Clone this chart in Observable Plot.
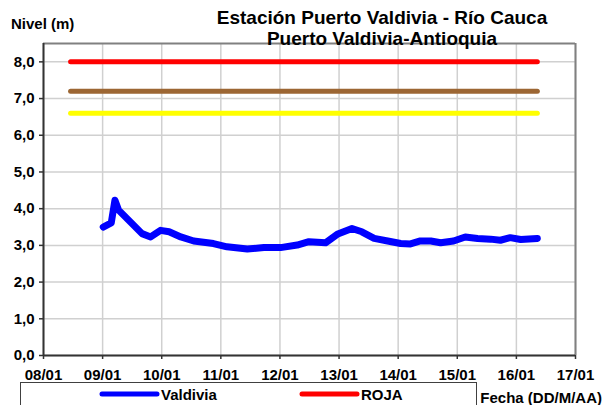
<!DOCTYPE html>
<html>
<head>
<meta charset="utf-8">
<script src="https://cdn.jsdelivr.net/npm/d3@7"></script>
<script src="https://cdn.jsdelivr.net/npm/@observablehq/plot@0.6"></script>
<style>
  html, body { margin: 0; padding: 0; background: #fff; }
  #chart { width: 603px; height: 405px; overflow: hidden; }
</style>
</head>
<body>
<div id="chart"></div>
<script>
// ---- data ----
const titleLine1 = "Estación Puerto Valdivia - Río Cauca";
const titleLine2 = "Puerto Valdivia-Antioquia";
const yAxisTitle = "Nivel (m)";
const xAxisTitle = "Fecha (DD/M/AA)";

const xStart = "2011-01-08 00:00";
const xEnd = "2011-01-17 00:00";
const yTicks = [0, 1, 2, 3, 4, 5, 6, 7, 8];

const seriesName = "Valdivia";
const levelTimes = [
  "2011-01-09 00:15", "2011-01-09 03:30", "2011-01-09 05:00", "2011-01-09 06:30",
  "2011-01-09 11:15", "2011-01-09 16:00", "2011-01-09 19:30", "2011-01-09 23:30",
  "2011-01-10 03:00", "2011-01-10 07:45", "2011-01-10 13:00", "2011-01-10 21:00",
  "2011-01-11 02:30", "2011-01-11 10:45", "2011-01-11 17:30", "2011-01-12 00:15",
  "2011-01-12 07:00", "2011-01-12 11:45", "2011-01-12 18:30", "2011-01-12 23:15",
  "2011-01-13 05:15", "2011-01-13 09:15", "2011-01-13 14:15", "2011-01-13 19:45",
  "2011-01-14 01:00", "2011-01-14 05:00", "2011-01-14 09:00", "2011-01-14 13:15",
  "2011-01-14 17:15", "2011-01-14 22:30", "2011-01-15 03:15", "2011-01-15 08:15",
  "2011-01-15 13:30", "2011-01-15 17:30", "2011-01-15 21:30", "2011-01-16 01:45",
  "2011-01-16 08:30"
];
const levelValues = [
  3.50, 3.61, 4.23, 3.96,
  3.64, 3.32, 3.23, 3.41,
  3.37, 3.23, 3.12, 3.05,
  2.96, 2.90, 2.94, 2.94,
  3.01, 3.10, 3.07, 3.30,
  3.46, 3.37, 3.19, 3.12,
  3.05, 3.04, 3.12, 3.12,
  3.07, 3.12, 3.23, 3.19,
  3.17, 3.14, 3.21, 3.16,
  3.19
];

const alertNames = ["ROJA", "NARANJA", "AMARILLA"];
const alertValues = [8.0, 7.2, 6.6];
const alertColors = ["#ff0000", "#9c6633", "#ffff00"];
const alertStart = "2011-01-08 11:00";
const alertEnd = "2011-01-16 08:30";

// ---- build ----
const parse = d3.utcParse("%Y-%m-%d %H:%M");
const x0 = parse(xStart), x1 = parse(xEnd);
const dayTicks = d3.utcDay.range(x0, d3.utcDay.offset(x1, 1));
const series = levelTimes.map((t, i) => ({date: parse(t), value: levelValues[i]}));
const alerts = [];
alertNames.forEach((n, i) => {
  alerts.push({name: n, date: parse(alertStart), value: alertValues[i]});
  alerts.push({name: n, date: parse(alertEnd), value: alertValues[i]});
});
const fmtY = d => d3.format(".1f")(d).replace(".", ",");
const fmtX = d3.utcFormat("%d/%m");
const FONT = "'Liberation Sans', Arial, sans-serif";

const W = 603, H = 405;
const chart = Plot.plot({
  width: W, height: H,
  marginLeft: 43, marginRight: 28, marginTop: 43, marginBottom: 50,
  style: {fontFamily: FONT, fontSize: "15px", fontWeight: "bold", color: "#000", background: "#fff", overflow: "visible"},
  x: {type: "utc", domain: [x0, x1]},
  y: {domain: [0, 8.5]},
  color: {domain: alertNames, range: alertColors},
  marks: [
    Plot.gridY(yTicks, {stroke: "#d0d0d0", strokeOpacity: 1, strokeWidth: 1.5}),
    Plot.gridX(dayTicks, {stroke: "#d0d0d0", strokeOpacity: 1, strokeWidth: 1.5}),
    Plot.ruleY([8.5], {stroke: "#808080", strokeWidth: 2}),
    Plot.ruleX([x1], {stroke: "#808080", strokeWidth: 2}),
    Plot.line(alerts, {x: "date", y: "value", z: "name", stroke: "name", strokeWidth: 5, strokeLinecap: "round"}),
    Plot.line(series, {x: "date", y: "value", stroke: "#0000ff", strokeWidth: 7, strokeLinecap: "round", strokeLinejoin: "round"}),
    Plot.ruleX([x0], {stroke: "#333", strokeWidth: 2}),
    Plot.ruleY([0], {stroke: "#333", strokeWidth: 2}),
    Plot.axisY(yTicks, {tickFormat: fmtY, tickSize: 4, tickPadding: 5, label: null, stroke: "#333", strokeWidth: 1.5, letterSpacing: "1px"}),
    Plot.axisX(dayTicks, {tickFormat: fmtX, tickSize: 4, tickPadding: 10, label: null, stroke: "#333", strokeWidth: 1.5})
  ]
});
document.getElementById("chart").appendChild(chart);

// ---- titles & legend ----
const svg = d3.select(chart);
const addText = (parent, txt, x, y, size, anchor) =>
  parent.append("text").attr("x", x).attr("y", y).attr("text-anchor", anchor)
    .attr("font-family", FONT).attr("font-weight", "bold").attr("font-size", size)
    .attr("fill", "#000").text(txt);

addText(svg, titleLine1, 382, 23.5, "19px", "middle");
addText(svg, titleLine2, 382, 45, "19px", "middle");
addText(svg, yAxisTitle, 11, 29, "15px", "start");
addText(svg, xAxisTitle, 602, 403, "15px", "end");

const lg = svg.append("g").attr("text-anchor", "start");
lg.append("rect").attr("x", 20.5).attr("y", 382.5).attr("width", 456).attr("height", 40)
  .attr("fill", "#fff").attr("stroke", "#404040").attr("stroke-width", 1);
const legendItems = [
  {name: seriesName, color: "#0000ff", x: 102},
  {name: alertNames[0], color: alertColors[0], x: 302}
];
legendItems.forEach(it => {
  lg.append("line").attr("x1", it.x).attr("x2", it.x + 55).attr("y1", 394).attr("y2", 394)
    .attr("stroke", it.color).attr("stroke-width", 5).attr("stroke-linecap", "round");
  addText(lg, it.name, it.x + 59, 399.5, "15px", "start");
});
</script>
</body>
</html>
